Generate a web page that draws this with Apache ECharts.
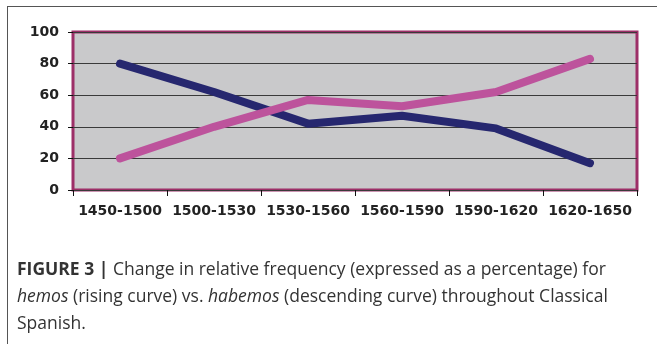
<!DOCTYPE html>
<html>
<head>
<meta charset="utf-8">
<script src="https://cdn.jsdelivr.net/npm/echarts@6/dist/echarts.min.js"></script>
<style>
  html, body { margin: 0; padding: 0; background: #ffffff; }
  #chart { width: 657px; height: 344px; }
</style>
</head>
<body>
<div id="chart"></div>
<script>
// Periods of Classical Spanish on the category axis
var periods = ['1450-1500', '1500-1530', '1530-1560', '1560-1590', '1590-1620', '1620-1650'];
// Relative frequency (%) of each form per period
var habemos = [80, 62, 42, 47, 39, 17];  // descending curve
var hemos = [20, 40, 57, 53, 62, 83];    // rising curve
// Value axis ticks
var yTicks = [0, 20, 40, 60, 80, 100];

var chart = echarts.init(document.getElementById('chart'));

var lineStyleBase = { width: 8, cap: 'round', join: 'round' };
var captionFont = 'Open Sans';
var captionSize = 17.5;

chart.setOption({
  animation: false,
  backgroundColor: '#ffffff',
  grid: {
    left: 73, top: 32, right: 20, bottom: 154,
    show: true,
    backgroundColor: '#c9c9cb',
    borderColor: '#9d2f68',
    borderWidth: 3
  },
  xAxis: {
    type: 'category',
    data: periods,
    boundaryGap: true,
    axisLine: { show: false },
    axisTick: { show: true, length: 6, lineStyle: { color: '#111', width: 1 } },
    axisLabel: {
      interval: 0,
      hideOverlap: false,
      margin: 14,
      color: '#222',
      fontFamily: 'DejaVu Sans',
      fontWeight: 'bold',
      fontSize: 14
    },
    splitLine: { show: false }
  },
  yAxis: {
    type: 'value',
    min: yTicks[0],
    max: yTicks[yTicks.length - 1],
    interval: yTicks[1] - yTicks[0],
    axisLine: { show: false },
    axisTick: { show: true, length: 5, lineStyle: { color: '#111', width: 1 } },
    axisLabel: {
      margin: 14,
      color: '#222',
      fontFamily: 'DejaVu Sans',
      fontWeight: 'bold',
      fontSize: 14
    },
    splitLine: { show: true, lineStyle: { color: '#3a3a3a', width: 1 } }
  },
  series: [
    {
      name: 'habemos',
      type: 'line',
      data: habemos,
      symbol: 'none',
      lineStyle: Object.assign({ color: '#26276f' }, lineStyleBase),
      z: 3
    },
    {
      name: 'hemos',
      type: 'line',
      data: hemos,
      symbol: 'none',
      lineStyle: Object.assign({ color: '#bd539c' }, lineStyleBase),
      z: 4
    }
  ],
  graphic: [
    // figure frame: top and left rules
    { type: 'line', shape: { x1: 7, y1: 6.5, x2: 657, y2: 6.5 }, style: { stroke: '#555', lineWidth: 1 } },
    { type: 'line', shape: { x1: 7.5, y1: 6, x2: 7.5, y2: 344 }, style: { stroke: '#555', lineWidth: 1 } },
    {
      type: 'text',
      left: 17,
      top: 257,
      style: {
        text: '{b|FIGURE 3 |} Change in relative frequency (expressed as a percentage) for\n' +
              '{i|hemos} (rising curve) vs. {i|habemos} (descending curve) throughout Classical\n' +
              'Spanish.',
        fontFamily: captionFont,
        fontSize: captionSize,
        lineHeight: 27,
        fill: '#333',
        rich: {
          b: { fontFamily: captionFont, fontWeight: 'bold', fontSize: captionSize, lineHeight: 27, fill: '#333' },
          i: { fontFamily: captionFont, fontStyle: 'italic', fontSize: captionSize, lineHeight: 27, fill: '#333' }
        }
      }
    }
  ]
});
</script>
</body>
</html>
